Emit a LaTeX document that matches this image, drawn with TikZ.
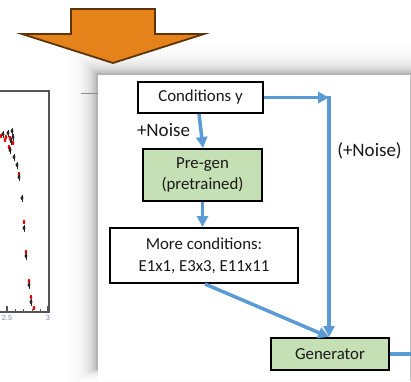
\documentclass[tikz,border=0pt]{standalone}
\usepackage{fontspec}
\setmainfont{Carlito}
\newfontfamily\plotfont{Liberation Sans}
\usetikzlibrary{arrows.meta}
\definecolor{flowblue}{HTML}{5B9BD5}
\definecolor{boxgreen}{HTML}{C5E0B4}
\definecolor{arroworange}{HTML}{E5831A}
\definecolor{arrowbrown}{HTML}{5E3306}
\definecolor{ticklabel}{HTML}{7C8AA6}
\definecolor{framegray}{HTML}{555555}
\begin{document}
\begin{tikzpicture}[x=1pt,y=-1pt,
  box/.style={draw=black, line width=2pt, text=black!90, align=center,
    inner sep=0pt, font=\fontsize{16.8}{21.5}\selectfont},
  flow/.style={draw=flowblue, line width=3.5pt,
    -{Triangle[length=11pt,width=11pt]}},
  flowline/.style={draw=flowblue, line width=3.5pt},
  lbl/.style={text=black!90, font=\fontsize{19}{22}\selectfont, inner sep=0pt},
  dotk/.style={fill=black!85},
  dotr/.style={fill=red!90!black},
  ticklbl/.style={text=ticklabel, font=\plotfont\fontsize{7.5}{8}\selectfont, inner sep=0pt}]
\useasboundingbox (0,0) rectangle (411,381);
\clip (0,0) rectangle (411,381);

% --- plot peeking out on the left ---
\draw[framegray, line width=1.3pt] (0,91) -- (49,91) -- (49,312) -- (0,312);
\foreach \tx in {7,48} \draw[framegray, line width=1.1pt] (\tx,312) -- (\tx,306);
\foreach \tx in {15,23,32,40} \draw[framegray, line width=1pt] (\tx,312) -- (\tx,309);
\node[ticklbl] (t25) at (7,318) {2.5};
\node[ticklbl] (t3) at (48,318) {3};
% data points: red and black markers with small error bars
\foreach \px/\py in {1/136,6/137,10/138,5/140,13/143,9/147,19/174,24/222,26/252,29/281,31/297,34/308}
  \fill[dotr] (\px,\py) ellipse (1.3 and 2.2);
\foreach \px/\py in {3/134,8/133,12/131,13/137,11/141,10/150,14/157,17/165,19/177,22/198,24/228,26/256,29/285,31/302}{
  \draw[black!85, line width=0.6pt] (\px,\py-3.5) -- (\px,\py+3.5);
  \fill[dotk] (\px,\py) ellipse (1.4 and 2);
}

% --- soft shadow around the window ---
\foreach \d in {34,32,...,0}{
  \pgfmathsetmacro\k{38*exp(-\d/8)}
  \fill[black!\k] (98-\d,75-\d) rectangle (420+\d,368+0.5*\d);
}
\draw[black!45, line width=1pt] (81,93) -- (98,93);

% --- window ---
\fill[white] (98,75) rectangle (411,381);
\draw[black!25, line width=0.8pt] (410,75) -- (410,381);

% --- orange arrow ---
\filldraw[fill=arroworange, draw=arrowbrown, line width=1.8pt, line join=miter]
  (71,9) -- (155,9) -- (155,34) -- (204,34) -- (113,63) -- (22,34) -- (71,34) -- cycle;

% --- flow chart ---
\node[box, fill=white, minimum width=125pt, minimum height=31pt] (cond) at (200.5,97.5) {Conditions y};
\node[box, fill=boxgreen, minimum width=119pt, minimum height=52pt] (pregen) at (202.5,175) {Pre-gen\\(pretrained)};
\node[box, fill=white, minimum width=188pt, minimum height=55pt] (more) at (204,255.5) {More conditions:\\E1x1, E3x3, E11x11};
\node[box, fill=boxgreen, minimum width=118pt, minimum height=32pt] (gen) at (330,354) {Generator};

\coordinate (corner) at (329,97.5);
\coordinate (exit) at (412,354);

\draw[flow] (cond.east) -- (corner);
\draw[flowline] (329,96) -- (329,100);
\draw[flow] (corner) -- (gen.north -| corner);
\draw[flow] ([xshift=-1.5pt]cond.south) -- ([xshift=0.5pt]pregen.north);
\draw[flow] (pregen.south) -- (pregen.south |- more.north);
\draw[flow] ([xshift=1pt]more.south) -- (gen.north -| corner);
\draw[flowline] (gen.east) -- (exit);

\node[lbl] (noise) at (163.5,130) {+Noise};
\node[lbl] (noise2) at (369.5,151) {(+Noise)};
\end{tikzpicture}
\end{document}
